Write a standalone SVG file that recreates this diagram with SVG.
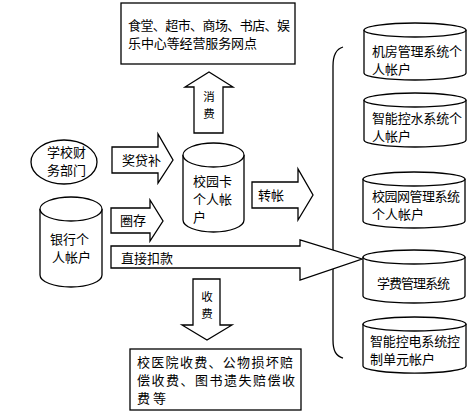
<svg xmlns="http://www.w3.org/2000/svg" width="472" height="413" viewBox="0 0 472 413">
<style>
.s{fill:#fff;stroke:#000;stroke-width:1.3;stroke-linejoin:miter}
.n{fill:none;stroke:#000;stroke-width:1.3}
text{font-family:"Noto Sans CJK SC","Noto Sans CJK TC",sans-serif;font-size:13px;fill:#000}
.v{font-size:11.5px;text-anchor:middle}
</style>
<rect width="472" height="413" fill="#fff"/>
<g id="connectors">
<path id="bracket" class="n" d="M343,47 C336,49 333,55 333,66 V340 C333,351 336,356 343,358"/>
<g id="arrow-consume"><polygon class="s" points="194,133 194,87 185,87 209,72 233,87 223,87 223,133"/><text class="v" x="209" y="101">消</text><text class="v" x="209" y="118">费</text></g>
<g id="arrow-charge"><polygon class="s" points="193,279 220,279 220,325 232,325 207,340 182,325 193,325"/><text class="v" x="207" y="301">收</text><text class="v" x="207" y="318">费</text></g>
<g id="arrow-subsidy"><polygon class="s" points="112,147 158,147 158,134 173,160 158,183 158,173 112,173"/><text x="122" y="165">奖贷补</text></g>
<g id="arrow-load"><polygon class="s" points="111,208 150,208 150,200 163,221 150,241 150,233 111,233"/><text x="120" y="225">圈存</text></g>
<g id="arrow-debit"><polygon class="s" points="111,246 300,246 300,240 362,259 300,280 300,268 111,268"/><text x="121" y="263">直接扣款</text></g>
<g id="arrow-transfer"><polygon class="s" points="252,182 298,182 298,169 313,195 298,220 298,208 252,208"/><text x="258" y="200">转帐</text></g>
</g>
<g id="top-box"><rect class="s" x="121" y="3" width="174" height="61"/><text x="128" y="29.5" textLength="162" lengthAdjust="spacing">食堂、超市、商场、书店、娱</text><text x="128" y="47.5" textLength="129" lengthAdjust="spacing">乐中心等经营服务网点</text></g>
<g id="bottom-box"><rect class="s" x="130" y="349" width="171" height="61"/><text x="137" y="367" textLength="156" lengthAdjust="spacing">校医院收费、公物损坏赔</text><text x="137" y="385" textLength="158" lengthAdjust="spacing">偿收费、图书遗失赔偿收</text><text x="137" y="403" textLength="29" lengthAdjust="spacing">费等</text></g>
<g id="finance-dept"><ellipse class="s" cx="64" cy="162" rx="33" ry="22"/><text x="47" y="157" textLength="39" lengthAdjust="spacing">学校财</text><text x="47" y="175" textLength="39" lengthAdjust="spacing">务部门</text></g>
<g id="bank-account"><path class="s" d="M40,209 V275 A31,12 0 0 0 102,275 V209"/><ellipse class="s" cx="71" cy="209" rx="31" ry="12"/><text x="50" y="244">银行个</text><text x="52" y="262">人帐户</text></g>
<g id="campus-card"><path class="s" d="M183,155 V220 A30.5,12 0 0 0 244,220 V155"/><ellipse class="s" cx="213.5" cy="155" rx="30.5" ry="12"/><text x="193" y="186">校园卡</text><text x="193" y="204">个人帐</text><text x="193" y="222">户</text></g>
<g id="machine-room"><path class="s" d="M364,30 V73 A51,7 0 0 0 466,73 V30"/><ellipse class="s" cx="415" cy="30" rx="51" ry="7"/><text x="372" y="56" textLength="90" lengthAdjust="spacing">机房管理系统个</text><text x="372" y="74">人帐户</text></g>
<g id="water-control"><path class="s" d="M364,100 V140 A51,7 0 0 0 466,140 V100"/><ellipse class="s" cx="415" cy="100" rx="51" ry="7"/><text x="372" y="122.5" textLength="90" lengthAdjust="spacing">智能控水系统个</text><text x="372" y="140.5">人帐户</text></g>
<g id="campus-net"><path class="s" d="M363,179 V221 A51,7 0 0 0 465,221 V179"/><ellipse class="s" cx="414" cy="179" rx="51" ry="7"/><text x="372" y="201" textLength="88" lengthAdjust="spacing">校园网管理系统</text><text x="372" y="219">个人帐户</text></g>
<g id="tuition"><path class="s" d="M363,257 V296 A51,7 0 0 0 465,296 V257"/><ellipse class="s" cx="414" cy="257" rx="51" ry="7"/><text x="377" y="288" textLength="73" lengthAdjust="spacing">学费管理系统</text></g>
<g id="power-control"><path class="s" d="M363,324 V366 A51,7 0 0 0 466,366 V324"/><ellipse class="s" cx="414.5" cy="324" rx="51.5" ry="7"/><text x="370" y="346" textLength="90" lengthAdjust="spacing">智能控电系统控</text><text x="370" y="364">制单元帐户</text></g>
</svg>
